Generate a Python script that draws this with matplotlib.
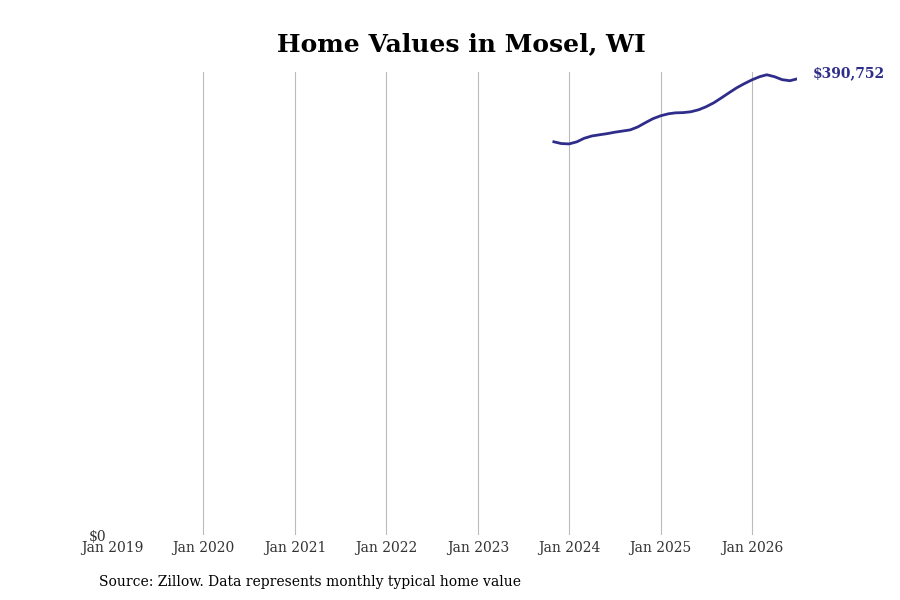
import numpy as np
import pandas as pd
import matplotlib
matplotlib.use("Agg")
import matplotlib.pyplot as plt

plt.rcParams['font.family'] = 'DejaVu Serif'

# monthly typical home value, Nov 2023 .. Jul 2026
dates = pd.date_range("2023-11-01", "2026-07-01", freq="MS")
values = [336800, 335300, 335000, 336800, 339800, 341800, 342800, 343800,
          345000, 346000, 347000, 349500, 353200, 356600, 359100, 360800,
          361600, 361800, 362500, 364200, 366800, 370200, 374500, 378800,
          383100, 386600, 389900, 392600, 394200, 392500, 390000, 389100,
          390752]
tick_years = list(range(2019, 2027))

line_color = "#2f2d8a"

fig = plt.figure(figsize=(9, 6), dpi=100)
ax = fig.add_axes([0.1245, 0.108, 0.7615, 0.772])

ax.plot(dates, values, color=line_color, linewidth=2)

ax.set_xlim(pd.Timestamp("2019-01-01"), dates[-1])
ax.set_ylim(0, max(values) * 1.006)

ax.set_xticks([pd.Timestamp(f"{y}-01-01") for y in tick_years])
ax.set_xticklabels([f"Jan {y}" for y in tick_years], fontsize=10, color="#333333")
ax.set_yticks([0])
ax.set_yticklabels(["$0"], fontsize=10, color="#333333")
ax.tick_params(length=0, pad=4)
ax.tick_params(axis="y", pad=4)
for lbl in ax.get_yticklabels():
    lbl.set_y(0.002)

ax.grid(axis="x", color="#bbbbbb", linewidth=0.8)
ax.get_xgridlines()[0].set_visible(False)
ax.set_axisbelow(True)
for s in ax.spines.values():
    s.set_visible(False)

ax.annotate(f"${values[-1]:,}", xy=(dates[-1], values[-1]), xytext=(11, 4),
            textcoords="offset points", fontsize=10, fontweight="bold",
            color=line_color, va="center", ha="left")

fig.text(461 / 900, 1 - 44 / 600, "Home Values in Mosel, WI", ha="center", va="center",
         fontsize=18, fontweight="bold")
fig.text(99 / 900, 1 - 582 / 600, "Source: Zillow. Data represents monthly typical home value",
         ha="left", va="center", fontsize=10)

fig.savefig("out.png", dpi=100)
